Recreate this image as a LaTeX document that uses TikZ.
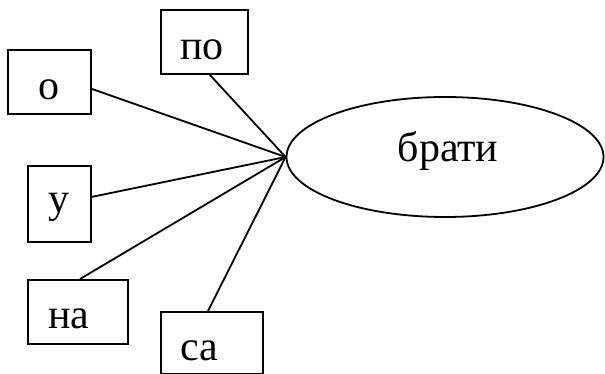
\documentclass[tikz,border=0pt]{standalone}
\usepackage{fontspec}
\setmainfont{Liberation Serif}
\usetikzlibrary{shapes.geometric}
\begin{document}
\begin{tikzpicture}[x=1pt,y=-1pt,
  box/.style={draw,line width=1.8pt,inner sep=0pt,anchor=north west},
  lbl/.style={anchor=base,inner sep=0pt,font=\fontsize{42}{42}\selectfont},
  conn/.style={line width=1.8pt}]
\useasboundingbox (0,0) rectangle (605,374);
\node[box,minimum width=87pt,minimum height=64pt] (bpo) at (160,9) {};
\node[box,minimum width=83pt,minimum height=64pt] (bo) at (7,49) {};
\node[box,minimum width=63pt,minimum height=76pt] (bu) at (27,165) {};
\node[box,minimum width=100pt,minimum height=64pt] (bna) at (27,279) {};
\node[box,minimum width=102pt,minimum height=62pt] (bsa) at (160,311) {};
\node[draw,line width=1.8pt,ellipse,minimum width=317pt,minimum height=120pt,inner sep=0pt] (el) at (445,157) {};
\node[lbl] (tpo) at (202,60) {по};
\node[lbl] (to) at (49,100) {о};
\node[lbl] (tu) at (59,213) {у};
\node[lbl] (tna) at (69,328) {на};
\node[lbl] (tsa) at (199,360) {са};
\node[lbl] (tbr) at (448,162) {брати};
\coordinate (c) at (el.west);
\coordinate (po1) at ([xshift=-39pt]bpo.south east);
\coordinate (sa1) at ([xshift=48pt]bsa.north west);
\coordinate (na1) at ([xshift=53pt]bna.north west);
\draw[conn] (po1) -- (c);
\draw[conn] ([yshift=-7pt]bo.east) -- (c);
\draw[conn] ([yshift=7pt]bu.east) -- (c);
\draw[conn] (na1) -- (c);
\draw[conn] (sa1) -- (c);
\end{tikzpicture}
\end{document}
